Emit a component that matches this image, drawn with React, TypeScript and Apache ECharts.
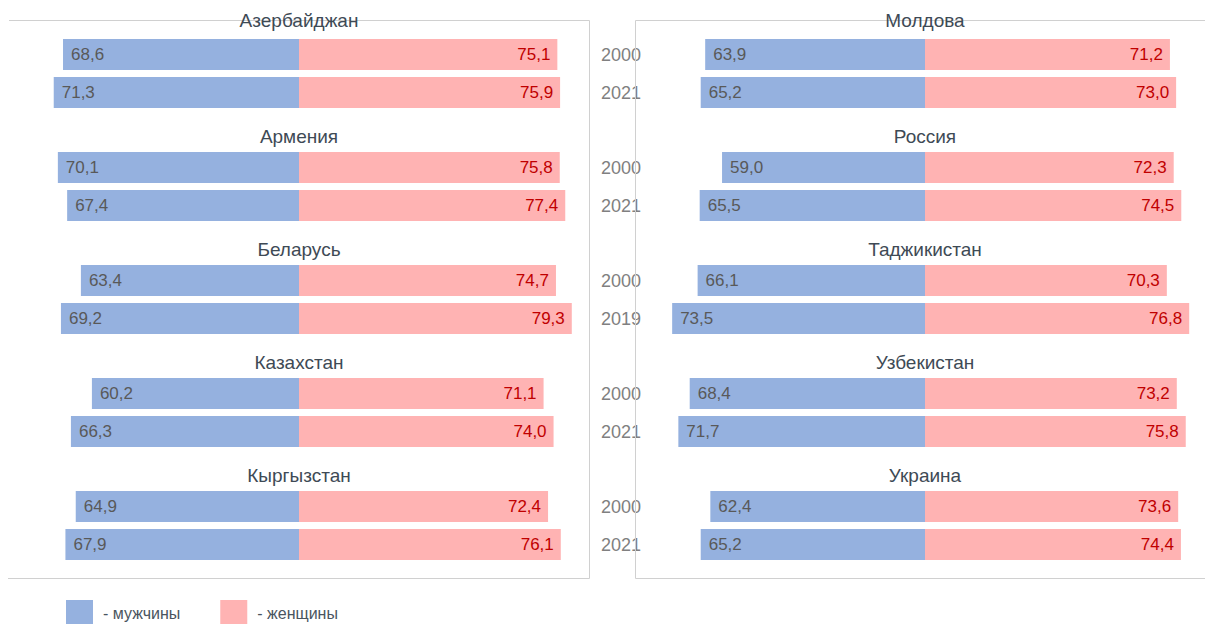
import React, { useEffect, useRef } from "react";
import * as echarts from "echarts";

const leftCountries = ["Азербайджан", "Армения", "Беларусь", "Казахстан", "Кыргызстан"];
const rightCountries = ["Молдова", "Россия", "Таджикистан", "Узбекистан", "Украина"];
const countries = [...leftCountries, ...rightCountries];

const years = [
  ["2000", "2021"],
  ["2000", "2021"],
  ["2000", "2021"],
  ["2000", "2021"],
  ["2000", "2021"],
  ["2000", "2021"],
  ["2000", "2021"],
  ["2000", "2019"],
  ["2000", "2021"],
  ["2000", "2021"],
];

const menValues = [
  [68.6, 71.3],
  [70.1, 67.4],
  [63.4, 69.2],
  [60.2, 66.3],
  [64.9, 67.9],
  [63.9, 65.2],
  [59.0, 65.5],
  [66.1, 73.5],
  [68.4, 71.7],
  [62.4, 65.2],
];

const womenValues = [
  [75.1, 75.9],
  [75.8, 77.4],
  [74.7, 79.3],
  [71.1, 74.0],
  [72.4, 76.1],
  [71.2, 73.0],
  [72.3, 74.5],
  [70.3, 76.8],
  [73.2, 75.8],
  [73.6, 74.4],
];

const MEN = "мужчины";
const WOMEN = "женщины";

const fmt = (v: number) => Math.abs(v).toFixed(1).replace(".", ",");

export default function App() {
  const ref = useRef<HTMLDivElement>(null);

  useEffect(() => {
    if (!ref.current) return;
    const chart = echarts.init(ref.current, undefined, { renderer: "svg" });

    const scale = 3.44;
    const half = 80;
    const gridWidth = half * 2 * scale;
    const centers = [299, 925];
    const grids: any[] = [];
    const xAxes: any[] = [];
    const yAxes: any[] = [];
    const series: any[] = [];
    const texts: any[] = [];

    countries.forEach((name, idx) => {
      const panel = idx < 5 ? 0 : 1;
      const row = idx % 5;
      const top = 35.5 + 113 * row;
      const left = centers[panel] - gridWidth / 2;
      grids.push({
        left,
        width: gridWidth,
        top,
        height: 76,
        containLabel: false,
        outerBoundsMode: "none",
      });
      xAxes.push({
        type: "value",
        gridIndex: idx,
        min: -half,
        max: half,
        show: false,
      });
      yAxes.push({
        type: "category",
        gridIndex: idx,
        data: years[idx],
        inverse: true,
        position: "left",
        axisLine: { show: false, onZero: false },
        axisTick: { show: false },
        axisLabel: {
          show: panel === 1,
          margin: left - 641,
          color: "#808080",
          fontSize: 18,
          fontFamily: "Liberation Sans, Arial, sans-serif",
        },
      });
      series.push({
        name: MEN,
        type: "bar",
        xAxisIndex: idx,
        yAxisIndex: idx,
        stack: "s" + idx,
        barWidth: 31,
        data: menValues[idx].map((v) => -v),
        itemStyle: { color: "#95B1DF" },
        label: {
          show: true,
          position: "insideLeft",
          distance: 8,
          formatter: (p: any) => fmt(p.value),
          color: "#595959",
          fontSize: 17,
          fontFamily: "Liberation Sans, Arial, sans-serif",
        },
      });
      series.push({
        name: WOMEN,
        type: "bar",
        xAxisIndex: idx,
        yAxisIndex: idx,
        stack: "s" + idx,
        barWidth: 31,
        data: womenValues[idx],
        itemStyle: { color: "#FFB3B3" },
        label: {
          show: true,
          position: "insideRight",
          distance: 7,
          formatter: (p: any) => fmt(p.value),
          color: "#C00000",
          fontSize: 17,
          fontFamily: "Liberation Sans, Arial, sans-serif",
        },
      });
      texts.push({
        type: "text",
        x: centers[panel],
        y: row === 0 ? 20 : 23 + 113 * row,
        z: 10,
        style: {
          text: name,
          fill: "#3E4A55",
          font: "19px 'Liberation Sans', Arial, sans-serif",
          align: "center",
          verticalAlign: "middle",
        },
      });
    });

    const lineStyle = { stroke: "#D0D0D0", lineWidth: 1 };
    const lines = [
      [9, 20.5, 589.5, 20.5],
      [589.5, 20.5, 589.5, 578.5],
      [8, 578.5, 589.5, 578.5],
      [635.5, 20.5, 635.5, 578.5],
      [635.5, 20.5, 1205, 20.5],
      [635.5, 578.5, 1205, 578.5],
    ].map(([x1, y1, x2, y2]) => ({
      type: "line",
      z: 1,
      shape: { x1, y1, x2, y2 },
      style: lineStyle,
    }));

    chart.setOption({
      animation: false,
      backgroundColor: "#ffffff",
      grid: grids,
      xAxis: xAxes,
      yAxis: yAxes,
      series,
      legend: {
        left: 66,
        top: 600,
        padding: 0,
        data: [MEN, WOMEN],
        itemWidth: 27,
        itemHeight: 27,
        itemGap: 40,
        icon: "rect",
        formatter: (n: string) => "- " + n,
        textStyle: {
          color: "#4A5560",
          fontSize: 16,
          fontFamily: "Liberation Sans, Arial, sans-serif",
          padding: [0, 0, 0, 5],
        },
        selectedMode: false,
      },
      graphic: [...lines, ...texts],
    });

    return () => chart.dispose();
  }, []);

  return (
    <div
      ref={ref}
      style={{ position: "absolute", left: 0, top: 0, width: 1205, height: 624 }}
    />
  );
}
